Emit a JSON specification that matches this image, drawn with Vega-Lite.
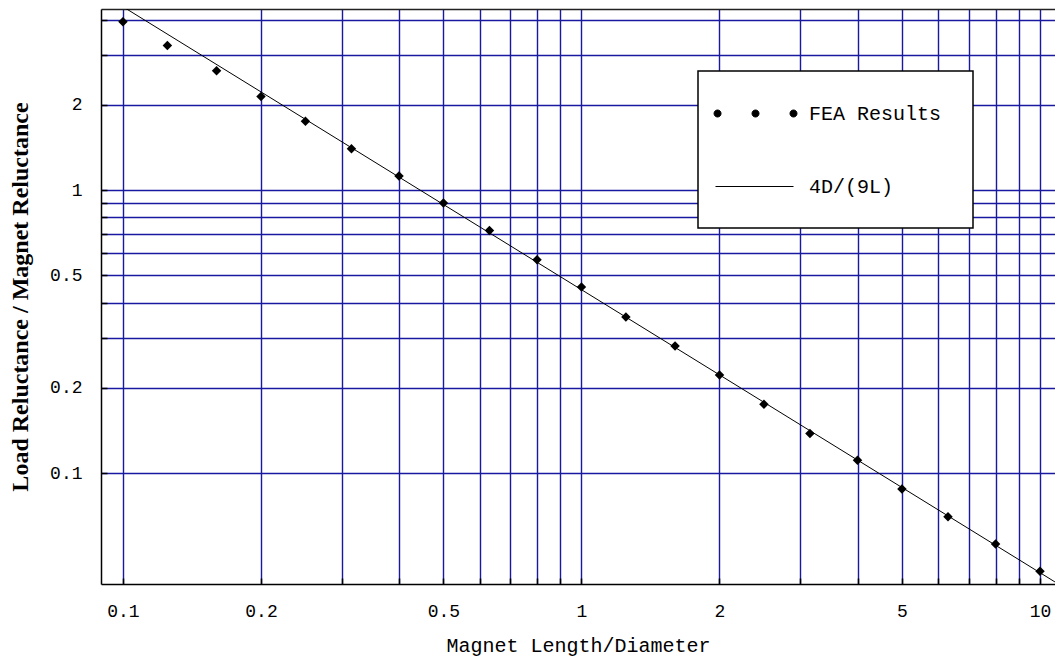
{
  "$schema": "https://vega.github.io/schema/vega-lite/v6.json",
  "width": 954,
  "height": 575,
  "autosize": {"type": "none"},
  "padding": {"left": 101, "top": 9, "right": 0, "bottom": 75},
  "background": "white",
  "config": {
    "view": {"stroke": null},
    "axis": {
      "grid": true,
      "gridColor": "#1818a0",
      "gridOpacity": 1,
      "gridWidth": 1.4,
      "domainColor": "black",
      "domainWidth": 1.5,
      "tickColor": "black",
      "tickSize": -6,
      "tickWidth": 1.5,
      "labelFont": "Liberation Mono",
      "labelFontSize": 18,
      "labelColor": "black",
      "titleColor": "black"
    },
    "legend": {
      "orient": "none",
      "legendX": 597,
      "legendY": 62,
      "strokeColor": "black",
      "strokeWidth": 1.5,
      "fillColor": "white",
      "padding": 15,
      "symbolSize": 2916,
      "symbolStrokeWidth": 1,
      "labelFont": "Liberation Mono",
      "labelFontSize": 20,
      "labelColor": "black",
      "labelOffset": 41,
      "rowPadding": 17
    }
  },
  "datasets": {
    "fea": [
      {"ld": 0.1, "ratio": 3.93, "series": "FEA Results"},
      {"ld": 0.125, "ratio": 3.24, "series": "FEA Results"},
      {"ld": 0.16, "ratio": 2.64, "series": "FEA Results"},
      {"ld": 0.2, "ratio": 2.14, "series": "FEA Results"},
      {"ld": 0.25, "ratio": 1.75, "series": "FEA Results"},
      {"ld": 0.315, "ratio": 1.4, "series": "FEA Results"},
      {"ld": 0.4, "ratio": 1.12, "series": "FEA Results"},
      {"ld": 0.5, "ratio": 0.9, "series": "FEA Results"},
      {"ld": 0.63, "ratio": 0.72, "series": "FEA Results"},
      {"ld": 0.8, "ratio": 0.567, "series": "FEA Results"},
      {"ld": 1, "ratio": 0.454, "series": "FEA Results"},
      {"ld": 1.25, "ratio": 0.356, "series": "FEA Results"},
      {"ld": 1.6, "ratio": 0.281, "series": "FEA Results"},
      {"ld": 2, "ratio": 0.222, "series": "FEA Results"},
      {"ld": 2.5, "ratio": 0.175, "series": "FEA Results"},
      {"ld": 3.15, "ratio": 0.138, "series": "FEA Results"},
      {"ld": 4, "ratio": 0.111, "series": "FEA Results"},
      {"ld": 5, "ratio": 0.0878, "series": "FEA Results"},
      {"ld": 6.3, "ratio": 0.07, "series": "FEA Results"},
      {"ld": 8, "ratio": 0.0561, "series": "FEA Results"},
      {"ld": 10, "ratio": 0.045, "series": "FEA Results"}
    ],
    "model": [
      {"ld": 0.1, "ratio": 4.444, "series": "4D/(9L)"},
      {"ld": 1, "ratio": 0.4444, "series": "4D/(9L)"},
      {"ld": 10, "ratio": 0.04444, "series": "4D/(9L)"},
      {"ld": 10.78, "ratio": 0.04122, "series": "4D/(9L)"}
    ]
  },
  "resolve": {"axis": {"x": "independent"}},
  "layer": [
    {
      "data": {"name": "model"},
      "mark": {"type": "line", "color": "black", "strokeWidth": 1, "clip": true},
      "encoding": {
        "x": {
          "field": "ld", "type": "quantitative",
          "scale": {"type": "log", "domain": [0.08956, 10.783], "nice": false},
          "axis": {
            "values": [0.1, 0.2, 0.3, 0.4, 0.5, 0.6, 0.7, 0.8, 0.9, 1, 2, 3, 4, 5, 6, 7, 8, 9, 10],
            "format": "~g",
            "labelExpr": "indexof([0.1, 0.2, 0.5, 1, 2, 5, 10], datum.value) >= 0 ? datum.label : ''",
            "labelPadding": 24,
            "title": "Magnet Length/Diameter",
            "titleFont": "Liberation Mono",
            "titleFontSize": 20,
            "titleFontWeight": "normal",
            "titlePadding": 15
          }
        },
        "y": {
          "field": "ratio", "type": "quantitative",
          "scale": {"type": "log", "domain": [0.04053, 4.362], "nice": false},
          "axis": {
            "values": [0.1, 0.2, 0.3, 0.4, 0.5, 0.6, 0.7, 0.8, 0.9, 1, 2, 3, 4],
            "format": "~g",
            "labelExpr": "indexof([0.1, 0.2, 0.5, 1, 2], datum.value) >= 0 ? datum.label : ''",
            "labelPadding": 25,
            "title": "Load Reluctance / Magnet Reluctance",
            "titleFont": "Liberation Serif",
            "titleFontSize": 24,
            "titleFontWeight": "bold",
            "titlePadding": 17
          }
        },
        "color": {
          "field": "series", "type": "nominal",
          "scale": {"domain": ["FEA Results", "4D/(9L)"], "range": ["black", "black"]},
          "legend": {
            "title": null,
            "encode": {
              "symbols": {
                "update": {
                  "shape": {"signal": "datum.value === 'FEA Results' ? 'M0,-1M0,0.889M7.96,0M-0.98,0a0.13,0.13 0 1,0 0.26,0a0.13,0.13 0 1,0 -0.26,0M0.426,0a0.13,0.13 0 1,0 0.26,0a0.13,0.13 0 1,0 -0.26,0M1.833,0a0.13,0.13 0 1,0 0.26,0a0.13,0.13 0 1,0 -0.26,0' : 'M0,-1M0,0.889M7.96,0M-0.926,0L1.963,0'"},
                  "fill": {"signal": "datum.value === 'FEA Results' ? 'black' : 'transparent'"},
                  "stroke": {"signal": "datum.value === 'FEA Results' ? 'transparent' : 'black'"},
                  "strokeWidth": {"value": 1},
                  "opacity": {"value": 1}
                }
              }
            }
          }
        }
      }
    },
    {
      "data": {"name": "fea"},
      "mark": {"type": "point", "shape": "diamond", "filled": true, "size": 90, "opacity": 1},
      "encoding": {
        "x": {
          "field": "ld", "type": "quantitative",
          "axis": {
            "orient": "top", "labels": false, "ticks": false, "grid": false,
            "title": null, "domainColor": "#222222", "domainWidth": 1.5
          }
        },
        "y": {"field": "ratio", "type": "quantitative"},
        "color": {"field": "series", "type": "nominal"}
      }
    }
  ]
}
